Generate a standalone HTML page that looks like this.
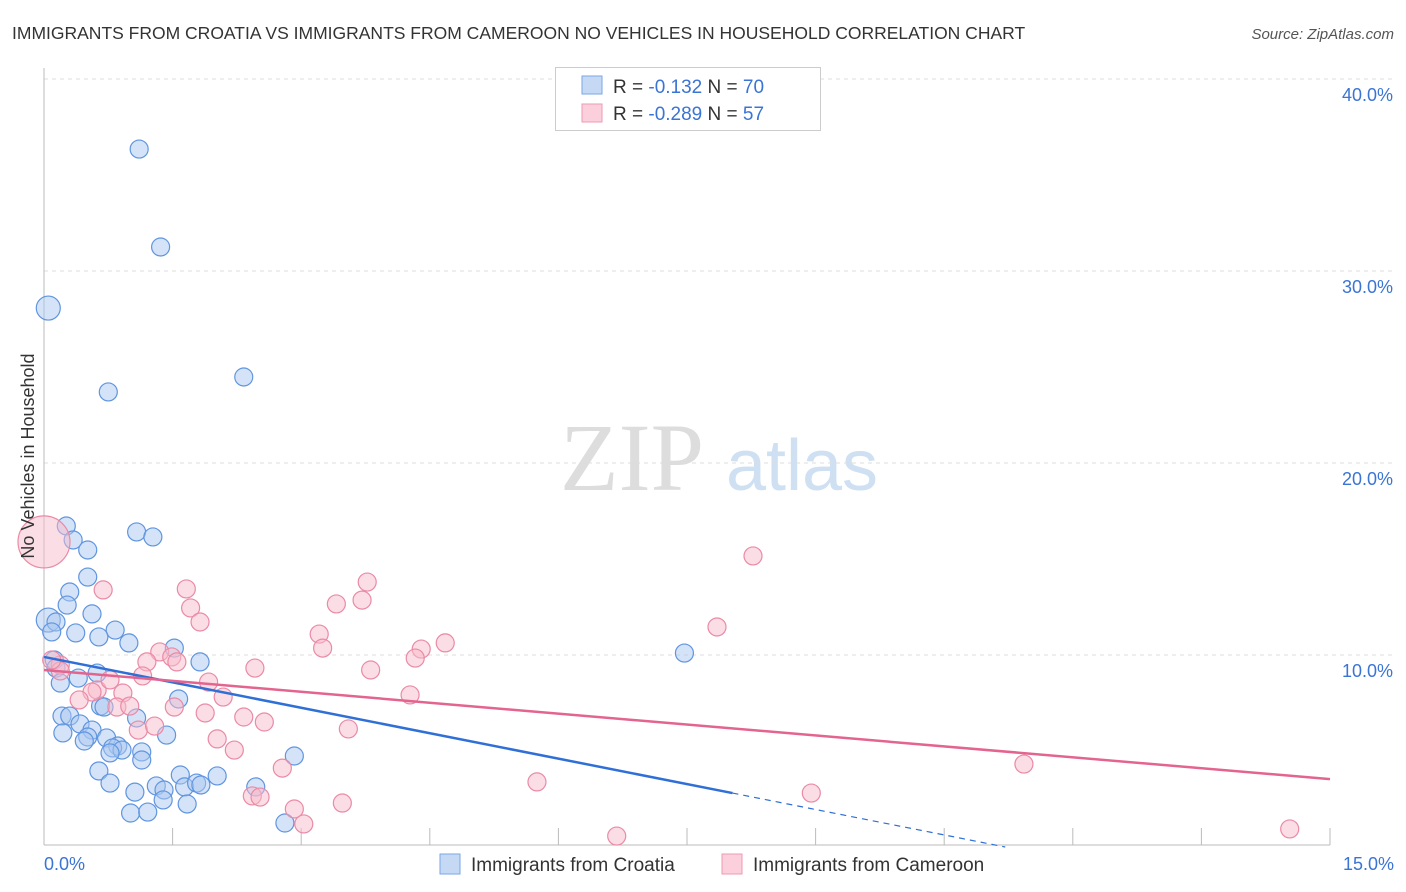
<!DOCTYPE html>
<html><head><meta charset="utf-8"><style>
body{margin:0;background:#fff;font-family:"Liberation Sans",sans-serif;}
svg{display:block}
</style></head><body>
<svg id="chart" width="1406" height="892">
<text x="12" y="39" font-size="17.5" fill="#333">IMMIGRANTS FROM CROATIA VS IMMIGRANTS FROM CAMEROON NO VEHICLES IN HOUSEHOLD CORRELATION CHART</text>
<text x="1394" y="39" font-size="15" fill="#555" font-style="italic" text-anchor="end">Source: ZipAtlas.com</text>
<g>
<text x="632" y="490" font-size="96" font-family="Liberation Serif,serif" fill="#ddd" text-anchor="middle">ZIP</text>
<text x="802" y="490" font-size="72" fill="#cfe0f3" text-anchor="middle">atlas</text>
</g>
<g id="grid"></g>
<g id="axes"></g>
<g id="marks"></g>
<text transform="translate(34,456) rotate(-90)" font-size="18" fill="#333" text-anchor="middle">No Vehicles in Household</text>
<g>
<rect x="555.5" y="67.5" width="265" height="63" fill="#fff" stroke="#ccc"/>
<rect x="582" y="76" width="20" height="18" fill="#c5d9f5" stroke="#7aa6e6"/>
<rect x="582" y="104" width="20" height="18" fill="#fbd0dc" stroke="#ee9ab2"/>
<text x="613" y="93" font-size="19" fill="#333">R = <tspan fill="#3a74d4">-0.132</tspan>   N = <tspan fill="#3a74d4">70</tspan></text>
<text x="613" y="120" font-size="19" fill="#333">R = <tspan fill="#3a74d4">-0.289</tspan>   N = <tspan fill="#3a74d4">57</tspan></text>
</g>
<g>
<rect x="440" y="854" width="20" height="20" fill="#c5d9f5" stroke="#7aa6e6"/>
<text x="471" y="871" font-size="19" fill="#333">Immigrants from Croatia</text>
<rect x="722" y="854" width="20" height="20" fill="#fbd0dc" stroke="#ee9ab2"/>
<text x="753" y="871" font-size="19" fill="#333">Immigrants from Cameroon</text>
</g>
</svg>
<script>
const yTicks=[10,20,30,40];
const yTickLabels=["10.0%","20.0%","30.0%","40.0%"];
const xTicks=[1.5,3,4.5,6,7.5,9,10.5,12,13.5,15];
const croatiaX=[1.11,1.36,0.05,0.75,2.33,0.26,1.08,1.27,0.34,0.51,0.51,0.30,0.27,0.56,0.05,0.14,0.09,0.37,0.83,0.64,0.99,1.52,1.82,0.12,0.14,0.62,0.40,0.19,1.57,0.66,0.70,0.21,0.30,1.08,0.42,0.56,0.22,1.43,0.51,0.73,0.47,0.86,0.80,0.91,1.14,0.77,1.14,2.92,0.64,0.77,1.59,1.31,1.40,1.64,2.02,1.78,1.83,2.47,1.06,1.39,1.67,1.01,1.21,2.81,7.47];
const croatiaY=[36.35,31.25,28.07,23.70,24.48,16.72,16.41,16.15,15.99,15.47,14.06,13.28,12.60,12.14,11.82,11.72,11.20,11.15,11.30,10.94,10.63,10.36,9.64,9.74,9.32,9.06,8.80,8.54,7.71,7.34,7.29,6.82,6.82,6.72,6.41,6.09,5.94,5.83,5.73,5.68,5.52,5.26,5.16,5.05,4.95,4.90,4.53,4.74,3.96,3.33,3.75,3.18,2.97,3.13,3.70,3.33,3.23,3.13,2.86,2.45,2.24,1.77,1.82,1.25,10.10];
const croatiaBig=[2,14];
const cameroonX=[0,8.27,3.77,0.69,1.66,3.41,3.71,1.71,1.82,7.85,3.21,3.25,4.68,4.40,1.35,1.49,4.33,1.55,1.20,0.19,2.46,3.81,1.15,1.92,0.62,0.56,0.92,4.27,0.41,2.09,0.85,1.52,1.00,1.88,2.33,2.57,1.10,1.29,3.55,2.02,2.22,11.43,2.78,5.75,8.95,2.43,2.52,3.48,2.92,3.03,6.68,14.53,0.77,0.19,0.09];
const cameroonY=[15.89,15.16,13.80,13.39,13.44,12.66,12.86,12.45,11.72,11.46,11.09,10.36,10.63,10.31,10.16,9.90,9.84,9.64,9.64,9.48,9.32,9.22,8.91,8.59,8.18,8.07,8.02,7.92,7.66,7.81,7.29,7.29,7.34,6.98,6.77,6.51,6.09,6.30,6.15,5.63,5.05,4.32,4.11,3.39,2.81,2.66,2.60,2.29,1.98,1.20,0.57,0.94,8.70,9.17,9.74];
const cameroonBig=[0];
const croatiaTrend=[9.90,-0.883];
const cameroonTrend=[9.22,-0.379];
const NS="http://www.w3.org/2000/svg";
const X0=44,X1=1330,Y0=847,PPY=19.2;
const sx=v=>X0+(X1-X0)*v/15, sy=v=>Y0-v*PPY;
function mk(tag,attrs,parent){const e=document.createElementNS(NS,tag);for(const k in attrs)e.setAttribute(k,attrs[k]);parent.appendChild(e);return e;}
const grid=document.getElementById('grid'),axes=document.getElementById('axes'),marks=document.getElementById('marks');
yTicks.forEach((t,i)=>{
 const l=mk('line',{x1:X0,x2:1394,y1:sy(t),y2:sy(t),stroke:'#ddd','stroke-dasharray':'4,4'},grid);
 
 
 const tx=mk('text',{x:1393,y:sy(t)+22,'font-size':18,fill:'#3a74d4','text-anchor':'end'},axes);
 tx.textContent=yTickLabels[i];
 
 
});
mk('line',{x1:X0,x2:X0,y1:68,y2:845,stroke:'#bbb'},axes);
mk('line',{x1:X0,x2:X1,y1:845,y2:845,stroke:'#bbb'},axes);
xTicks.forEach(t=>{
 const l=mk('line',{x1:sx(t),x2:sx(t),y1:828,y2:845,stroke:'#bbb'},axes);
 
 
});
const xl0=mk('text',{x:44,y:870,'font-size':18,fill:'#3a74d4'},axes);xl0.textContent='0.0%';


const xl1=mk('text',{x:1394,y:870,'font-size':18,fill:'#3a74d4','text-anchor':'end'},axes);xl1.textContent='15.0%';


function pts(xs,ys,big,fill,stroke,name){
 xs.forEach((x,i)=>{
  const c=mk('circle',{cx:sx(x),cy:sy(ys[i]),r:big.includes(i)?(i===0&&name==='cameroon-point'?26:12):9,fill:fill,'fill-opacity':0.5,stroke:stroke,'stroke-width':1.2},marks);
  
  
 });
}
pts(croatiaX,croatiaY,croatiaBig,'#a9c7f0','#5f95e0','croatia-point');
pts(cameroonX,cameroonY,cameroonBig,'#f7bccc','#ea8aa6','cameroon-point');
const bEnd=8.03;
const bl=mk('line',{x1:sx(0),y1:sy(croatiaTrend[0]),x2:sx(bEnd),y2:sy(croatiaTrend[0]+croatiaTrend[1]*bEnd),stroke:'#2f6fd6','stroke-width':2.5},marks);


const bx2=-croatiaTrend[0]/croatiaTrend[1];
const bd=mk('line',{x1:sx(bEnd),y1:sy(croatiaTrend[0]+croatiaTrend[1]*bEnd),x2:sx(bx2),y2:sy(0),stroke:'#2f6fd6','stroke-width':1.2,'stroke-dasharray':'6,5'},marks);


const pl=mk('line',{x1:sx(0),y1:sy(cameroonTrend[0]),x2:sx(15),y2:sy(cameroonTrend[0]+cameroonTrend[1]*15),stroke:'#e3648f','stroke-width':2.5},marks);


</script>
</body></html>
